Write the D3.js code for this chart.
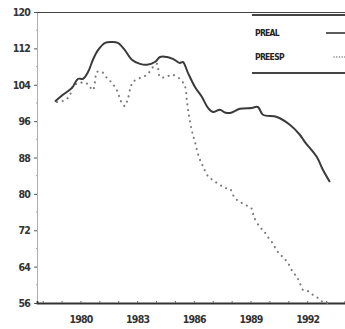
<!DOCTYPE html>
<meta charset="utf-8">
<script src="https://d3js.org/d3.v7.min.js"></script>
<style>
  body { margin: 0; background: #fff; }
  .tick text { font-family: "DejaVu Sans Condensed", "DejaVu Sans", sans-serif; font-size: 10.5px; font-weight: bold; fill: #333; letter-spacing: -0.8px; }
  .legend text { font-family: "DejaVu Sans Condensed", "DejaVu Sans", sans-serif; font-size: 8.5px; font-weight: bold; fill: #222; letter-spacing: -0.7px; }
</style>
<div id="chart"></div>
<script>
// values
var yearTicks = [1978, 1979, 1980, 1981, 1982, 1983, 1984, 1985, 1986, 1987, 1988, 1989, 1990, 1991, 1992, 1993];
var yearLabels = [1980, 1983, 1986, 1989, 1992];
var valueTicks = [56, 64, 72, 80, 88, 96, 104, 112, 120];

var prealT = [1978.65, 1979.07, 1979.55, 1979.87, 1980.13, 1980.40, 1980.66, 1980.93, 1981.30, 1981.67, 1981.98,
  1982.35, 1982.72, 1983.15, 1983.52, 1983.94, 1984.21, 1984.58, 1984.89, 1985.26, 1985.42, 1985.69, 1986.06,
  1986.43, 1986.75, 1987.01, 1987.38, 1987.65, 1987.91, 1988.44, 1989.07, 1989.39, 1989.66, 1990.40, 1991.08,
  1991.61, 1991.88, 1992.51, 1992.83, 1993.20];
var prealV = [100.3, 101.8, 103.3, 105.3, 105.3, 106.8, 109.5, 111.6, 113.2, 113.4, 113.2,
  111.6, 109.5, 108.6, 108.4, 109.0, 110.1, 110.1, 109.7, 108.8, 109.0, 106.6, 103.5,
  101.3, 98.9, 98.0, 98.5, 97.9, 97.8, 98.7, 98.9, 99.1, 97.4, 96.9, 95.2,
  93.0, 91.4, 88.1, 85.3, 82.6];

var preespT = [1978.76, 1979.18, 1979.44, 1979.60, 1979.97, 1980.29, 1980.50, 1980.66, 1980.77, 1980.87, 1981.14,
  1981.40, 1981.67, 1981.93, 1982.14, 1982.35, 1982.51, 1982.67, 1982.83, 1983.15, 1983.52, 1983.84, 1984.05,
  1984.21, 1984.52, 1984.84, 1985.26, 1985.53, 1985.63, 1985.74, 1985.90, 1986.06, 1986.27, 1986.48, 1986.75,
  1987.01, 1987.38, 1987.65, 1987.91, 1988.17, 1988.54, 1988.86, 1989.07, 1989.18, 1989.50, 1989.71, 1989.92,
  1990.13, 1990.29, 1990.45, 1990.71, 1990.98, 1991.24, 1991.46, 1991.61, 1991.77, 1992.04, 1992.30, 1992.57,
  1992.83, 1993.20];
var preespV = [100.2, 100.6, 101.7, 103.7, 104.4, 104.4, 103.5, 102.8, 104.6, 106.8, 106.8,
  105.5, 104.4, 102.8, 100.4, 99.3, 100.9, 103.7, 104.8, 105.5, 106.2, 107.9, 108.6,
  105.7, 105.7, 106.2, 105.3, 103.7, 100.6, 97.3, 93.8, 91.4, 88.1, 86.1, 83.9,
  83.0, 82.0, 81.3, 81.1, 79.1, 78.0, 77.3, 76.7, 74.9, 72.7, 71.8, 70.5,
  69.4, 68.3, 67.2, 66.1, 64.8, 62.8, 61.7, 60.4, 58.9, 58.6, 57.8, 57.1,
  56.2, 56.0];

var W = 345, H = 329;
var margin = {top: 12, right: 0, bottom: 26, left: 37};

var svg = d3.select("#chart").append("svg")
    .attr("width", W)
    .attr("height", H);

var x = d3.scaleLinear().domain([1977.7, 1994]).range([margin.left, W - margin.right]);
var y = d3.scaleLinear().domain([56, 120]).range([H - margin.bottom, margin.top]);

// left axis
var yAxis = svg.append("g")
    .attr("transform", "translate(" + margin.left + ",0)")
    .call(d3.axisLeft(y).tickValues(valueTicks).tickSize(3).tickPadding(4));
yAxis.select(".domain").attr("stroke", "#999").attr("stroke-width", 0.8);
yAxis.selectAll(".tick line").attr("stroke", "#555");
yAxis.selectAll(".tick text").attr("dy", "0.34em");

// minor ticks halfway between labels
svg.append("g").selectAll("line")
    .data(valueTicks.slice(0, -1).map(function(d) { return d + 4; }))
  .enter().append("line")
    .attr("x1", margin.left - 1).attr("x2", margin.left + 1)
    .attr("y1", function(d) { return y(d); })
    .attr("y2", function(d) { return y(d); })
    .attr("stroke", "#aaa");

// bottom axis
var xAxis = svg.append("g")
    .attr("transform", "translate(0," + (H - margin.bottom) + ")")
    .call(d3.axisBottom(x).tickValues(yearTicks).tickSize(-2).tickPadding(13)
      .tickFormat(function(d) { return yearLabels.indexOf(d) >= 0 ? d : ""; }));
xAxis.select(".domain").attr("stroke", "#333").attr("stroke-width", 1.8);
xAxis.selectAll(".tick line").attr("stroke", "#666");

// top frame line
svg.append("line")
    .attr("x1", margin.left).attr("x2", W)
    .attr("y1", y(120) + 0.5).attr("y2", y(120) + 0.5)
    .attr("stroke", "#444").attr("stroke-width", 1.2);

var line = d3.line()
    .x(function(d) { return x(d[0]); })
    .y(function(d) { return y(d[1]); })
    .curve(d3.curveCatmullRom);

svg.append("path")
    .datum(d3.zip(preespT, preespV))
    .attr("fill", "none")
    .attr("stroke", "#7a7a7a")
    .attr("stroke-width", 2.1)
    .attr("stroke-linecap", "round")
    .attr("stroke-dasharray", "0.1,5.6")
    .attr("d", line);

svg.append("path")
    .datum(d3.zip(prealT, prealV))
    .attr("fill", "none")
    .attr("stroke", "#3a3a3a")
    .attr("stroke-width", 2)
    .attr("stroke-linejoin", "round")
    .attr("d", line);

// legend
var lg = svg.append("g").attr("class", "legend");
lg.append("line").attr("x1", 252).attr("x2", W).attr("y1", 15).attr("y2", 15)
    .attr("stroke", "#444").attr("stroke-width", 2.2);
lg.append("line").attr("x1", 252).attr("x2", W).attr("y1", 73).attr("y2", 73)
    .attr("stroke", "#444").attr("stroke-width", 2);
lg.append("text").attr("x", 255).attr("y", 36).text("PREAL");
lg.append("text").attr("x", 255).attr("y", 60).text("PREESP");
lg.append("line").attr("x1", 326).attr("x2", W).attr("y1", 33).attr("y2", 33)
    .attr("stroke", "#333").attr("stroke-width", 1.6);
lg.append("line").attr("x1", 334).attr("x2", W).attr("y1", 57).attr("y2", 57)
    .attr("stroke", "#777").attr("stroke-width", 1.4)
    .attr("stroke-linecap", "round").attr("stroke-dasharray", "0.1,2.6");
</script>
